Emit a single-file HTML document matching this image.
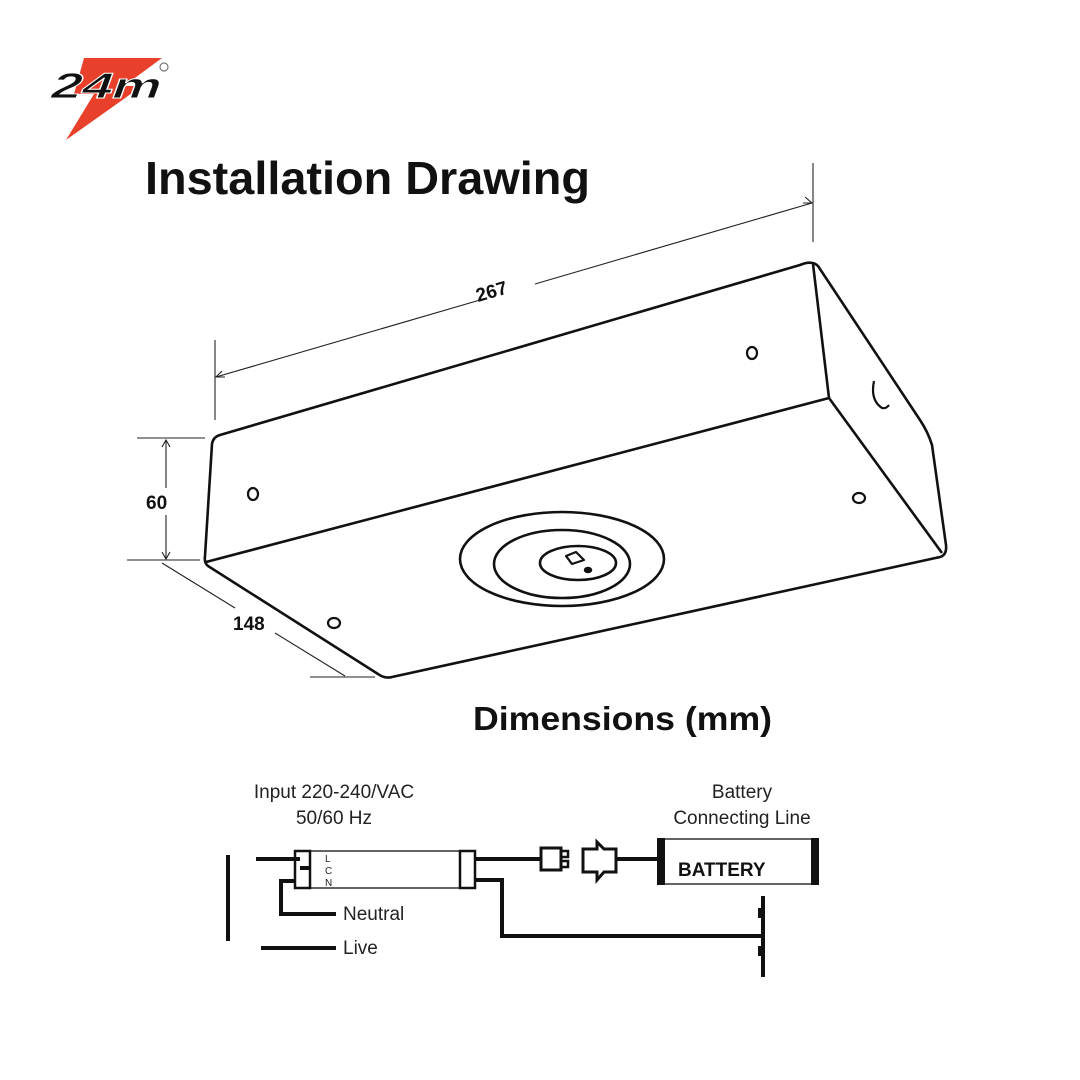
<!DOCTYPE html>
<html><head><meta charset="utf-8"><style>
html,body{margin:0;padding:0;background:#fff;}
svg{display:block;}
</style></head><body>
<svg width="1080" height="1080" viewBox="0 0 1080 1080" xmlns="http://www.w3.org/2000/svg" font-family="Liberation Sans, sans-serif">
<rect width="1080" height="1080" fill="#fff"/>
<!-- logo -->
<polygon points="84,58 162,58 124,86 142,86 66,140 94,94 74,94" fill="#e8402a"/>
<text x="0" y="0" font-size="36" font-weight="bold" fill="#111" stroke="#fff" stroke-width="1" transform="translate(48,98) skewX(-20)" textLength="110" lengthAdjust="spacingAndGlyphs">24m</text>
<circle cx="164" cy="67" r="4" fill="none" stroke="#777" stroke-width="1.2"/>
<!-- titles -->
<text x="145" y="194" font-size="46" font-weight="bold" fill="#111" textLength="445" lengthAdjust="spacingAndGlyphs">Installation Drawing</text>
<text x="473" y="730" font-size="33" font-weight="bold" fill="#111" textLength="299" lengthAdjust="spacingAndGlyphs">Dimensions (mm)</text>
<!-- box -->
<g fill="none" stroke="#111" stroke-width="2.6" stroke-linejoin="round">
<path d="M220,435 L800,265 Q812,260 818,266 L920,420 Q928,432 932,445 L946,545 Q947,555 940,557 L392,677 Q385,679 378,674 L208,566 Q204,563 205,556 L212,444 Q213,437 220,435 Z"/>
<path d="M813,264 L829,398 L206,562"/>
<path d="M829,398 L942,553"/>
<ellipse cx="562" cy="559" rx="102" ry="47"/>
<ellipse cx="562" cy="564" rx="68" ry="34"/>
<ellipse cx="578" cy="563" rx="38" ry="17"/>
<path d="M566,556 L576,552 L584,560 L572,564 Z" stroke-width="2.2"/>
<ellipse cx="588" cy="570" rx="3.5" ry="2.5" fill="#111" stroke-width="1.5"/>
<ellipse cx="253" cy="494" rx="5" ry="6" stroke-width="2.2"/>
<ellipse cx="752" cy="353" rx="5" ry="6" stroke-width="2.2"/>
<ellipse cx="859" cy="498" rx="6" ry="5" stroke-width="2.2"/>
<ellipse cx="334" cy="623" rx="6" ry="5" stroke-width="2.2"/>
<path d="M874,381 Q870,400 882,408 Q886,409 889,405" stroke-width="2.2"/>
</g>
<!-- dimension lines -->
<g stroke="#222" stroke-width="1.1" fill="none">
<line x1="215" y1="340" x2="215" y2="420"/>
<line x1="813" y1="163" x2="813" y2="242"/>
<line x1="216" y1="377" x2="480" y2="300"/>
<line x1="535" y1="284" x2="812" y2="203"/>
<path d="M222,371 L216,377 L225,377"/>
<path d="M803,203 L812,203 L805,197"/>
<line x1="137" y1="438" x2="205" y2="438"/>
<line x1="127" y1="560" x2="200" y2="560"/>
<line x1="166" y1="440" x2="166" y2="488"/>
<line x1="166" y1="515" x2="166" y2="559"/>
<path d="M162,447 L166,440 L170,447"/>
<path d="M162,552 L166,559 L170,552"/>
<line x1="162" y1="563" x2="235" y2="608"/>
<line x1="275" y1="633" x2="345" y2="676"/>
<line x1="310" y1="677" x2="375" y2="677"/>
</g>
<text x="0" y="0" font-size="19" font-weight="bold" fill="#111" transform="translate(478,302) rotate(-16)">267</text>
<text x="146" y="509" font-size="19" font-weight="bold" fill="#111">60</text>
<text x="233" y="630" font-size="19" font-weight="bold" fill="#111">148</text>
<!-- schematic -->
<g font-size="19" fill="#222">
<text x="334" y="798" text-anchor="middle">Input 220-240/VAC</text>
<text x="334" y="824" text-anchor="middle">50/60 Hz</text>
<text x="742" y="798" text-anchor="middle">Battery</text>
<text x="742" y="824" text-anchor="middle">Connecting Line</text>
<text x="343" y="920">Neutral</text>
<text x="343" y="954">Live</text>
</g>
<g stroke="#111" fill="none">
<line x1="228" y1="855" x2="228" y2="941" stroke-width="4"/>
<line x1="256" y1="859" x2="300" y2="859" stroke-width="4"/>
<rect x="310" y="851" width="150" height="37" stroke-width="1.3"/>
<rect x="295" y="851" width="15" height="37" stroke-width="2.5"/>
<line x1="300" y1="868" x2="310" y2="868" stroke-width="4"/>
<path d="M295,881 L281,881 L281,914 L336,914" stroke-width="4"/>
<line x1="261" y1="948" x2="336" y2="948" stroke-width="4"/>
<rect x="460" y="851" width="15" height="37" stroke-width="2.5"/>
<line x1="475" y1="859" x2="540" y2="859" stroke-width="4"/>
<path d="M475,880 L502,880 L502,936 L762,936" stroke-width="4"/>
<rect x="541" y="848" width="20" height="22" stroke-width="3"/>
<rect x="561" y="851" width="7" height="6" stroke-width="2.5"/>
<rect x="561" y="861" width="7" height="6" stroke-width="2.5"/>
<path d="M583,849 L597,849 L597,842 L604,849 L616,849 L616,872 L604,872 L597,880 L597,872 L583,872 Z" stroke-width="3"/>
<line x1="616" y1="859" x2="659" y2="859" stroke-width="4"/>
<rect x="660" y="839" width="155" height="45" stroke-width="1.3"/>
<line x1="763" y1="896" x2="763" y2="977" stroke-width="4"/>
<rect x="758" y="908" width="5" height="10" fill="#111" stroke="none"/>
<rect x="758" y="946" width="5" height="10" fill="#111" stroke="none"/>
</g>
<rect x="657" y="838" width="8" height="47" fill="#111"/>
<rect x="811" y="838" width="8" height="47" fill="#111"/>
<text x="678" y="876" font-size="19" font-weight="bold" fill="#111">BATTERY</text>
<g font-size="10" fill="#222"><text x="325" y="862">L</text><text x="325" y="874">C</text><text x="325" y="886">N</text></g>
</svg>
</body></html>
